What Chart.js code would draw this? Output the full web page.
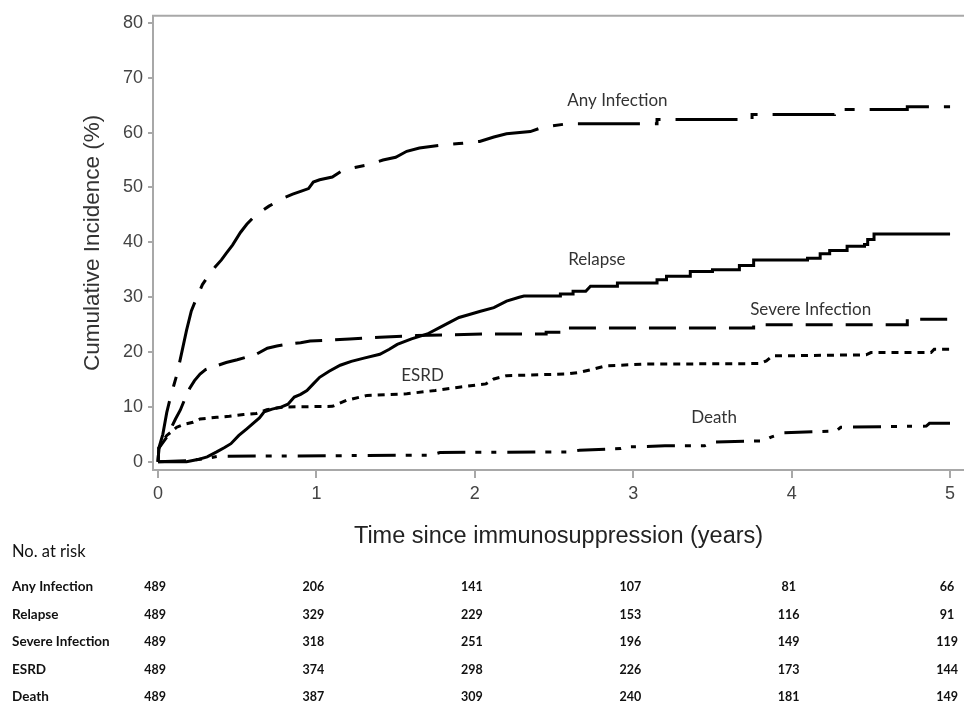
<!DOCTYPE html>
<html>
<head>
<meta charset="utf-8">
<script src="https://cdn.jsdelivr.net/npm/chart.js@4.4.1/dist/chart.umd.min.js"></script>
<style>
html,body{margin:0;padding:0;background:#fff;}
canvas{display:block;}
</style>
</head>
<body>
<canvas id="c" width="964" height="704"></canvas>
<script>
// ---------- data (vertical steps given as repeated times) ----------
const xTickValues = [0, 1, 2, 3, 4, 5];
const yTickValues = [0, 10, 20, 30, 40, 50, 60, 70, 80];

const anyInfectionTime = [0, 0.005, 0.03, 0.055, 0.08, 0.1, 0.12, 0.15, 0.18, 0.21, 0.245, 0.28, 0.32, 0.36, 0.4, 0.43, 0.47, 0.52, 0.56, 0.6, 0.65, 0.7, 0.75, 0.8, 0.85, 0.9, 0.95, 0.98, 1.02, 1.1, 1.17, 1.25, 1.32, 1.42, 1.5, 1.57, 1.65, 1.78, 1.9, 2.03, 2.12, 2.2, 2.35, 2.43, 2.58, 3.15, 3.15, 3.75, 3.75, 4.27, 4.27, 4.73, 4.73, 5.0];
const anyInfectionPct  = [0, 2.5, 5, 9, 12, 14, 16, 20, 24, 27.5, 30, 32.3, 34, 35.5, 36.8, 38, 39.5, 41.8, 43.3, 44.5, 45.6, 46.6, 47.4, 48.2, 48.8, 49.3, 49.8, 51, 51.4, 51.9, 53.2, 53.7, 54.1, 55, 55.5, 56.6, 57.2, 57.7, 58, 58.4, 59.2, 59.8, 60.2, 61, 61.6, 61.6, 62.4, 62.4, 63.3, 63.3, 64.2, 64.2, 64.7, 64.7];

const relapseTime = [0, 0.18, 0.25, 0.31, 0.37, 0.42, 0.46, 0.51, 0.56, 0.6, 0.64, 0.67, 0.72, 0.78, 0.82, 0.86, 0.9, 0.94, 0.98, 1.02, 1.08, 1.15, 1.22, 1.3, 1.4, 1.46, 1.51, 1.6, 1.7, 1.78, 1.84, 1.9, 1.96, 2.03, 2.12, 2.2, 2.28, 2.31, 2.54, 2.54, 2.62, 2.62, 2.7, 2.73, 2.9, 2.9, 3.15, 3.15, 3.21, 3.21, 3.36, 3.36, 3.5, 3.5, 3.67, 3.67, 3.76, 3.76, 4.1, 4.1, 4.18, 4.18, 4.24, 4.24, 4.35, 4.35, 4.46, 4.46, 4.48, 4.48, 4.52, 4.52, 5.0];
const relapsePct  = [0, 0, 0.4, 0.9, 1.8, 2.6, 3.3, 4.8, 6, 7, 8, 9.1, 9.6, 10, 10.5, 11.8, 12.3, 13, 14.2, 15.4, 16.5, 17.6, 18.3, 18.9, 19.6, 20.5, 21.4, 22.4, 23.3, 24.5, 25.4, 26.3, 26.8, 27.4, 28.1, 29.3, 30, 30.2, 30.2, 30.6, 30.6, 31.1, 31.1, 32, 32, 32.6, 32.6, 33.2, 33.2, 33.8, 33.8, 34.7, 34.7, 35, 35, 35.8, 35.8, 36.8, 36.8, 37.1, 37.1, 37.9, 37.9, 38.5, 38.5, 39.3, 39.3, 39.6, 39.6, 40.5, 40.5, 41.5, 41.5];

const severeInfectionTime = [0, 0.005, 0.03, 0.055, 0.08, 0.11, 0.14, 0.17, 0.2, 0.23, 0.265, 0.3, 0.35, 0.43, 0.5, 0.56, 0.62, 0.69, 0.75, 0.81, 0.9, 0.96, 1.1, 1.21, 1.4, 1.63, 2.07, 2.45, 2.45, 2.56, 2.56, 3.76, 3.76, 4.73, 4.73, 5.0];
const severeInfectionPct  = [0, 2.5, 3.5, 4.5, 6, 7.8, 9.4, 11.5, 13.4, 14.8, 16, 16.8, 17.3, 18.1, 18.6, 19.1, 19.6, 20.7, 21.1, 21.4, 21.7, 22, 22.2, 22.4, 22.7, 23, 23.3, 23.3, 23.6, 23.6, 24.4, 24.4, 25, 25, 26, 26];

const esrdTime = [0, 0.005, 0.03, 0.055, 0.09, 0.118, 0.16, 0.22, 0.265, 0.37, 0.45, 0.54, 0.62, 0.686, 0.75, 0.81, 1.1, 1.19, 1.32, 1.57, 1.75, 1.9, 2.07, 2.12, 2.2, 2.58, 2.66, 2.75, 2.83, 3.08, 3.8, 3.84, 3.88, 4.47, 4.5, 4.88, 4.9, 5.0];
const esrdPct  = [0, 2.5, 3.8, 4.8, 5.6, 6.3, 6.8, 7.2, 7.8, 8.1, 8.3, 8.6, 8.8, 9.5, 9.8, 10, 10.1, 11.2, 12.1, 12.4, 13, 13.6, 14.2, 15.1, 15.7, 16, 16.3, 16.9, 17.5, 17.8, 17.9, 18.4, 19.3, 19.5, 19.9, 19.9, 20.5, 20.5];

const deathTime = [0, 0.2, 0.3, 0.38, 1.72, 1.78, 2.6, 2.66, 2.92, 2.96, 3.2, 3.45, 3.5, 3.82, 3.87, 3.95, 4.28, 4.31, 4.85, 4.87, 5.0];
const deathPct  = [0, 0.2, 0.6, 1.0, 1.2, 1.7, 1.8, 2.1, 2.4, 2.7, 2.9, 2.9, 3.6, 3.8, 4.5, 5.3, 5.6, 6.3, 6.5, 7, 7];

const seriesNames = ['Any Infection', 'Relapse', 'Severe Infection', 'ESRD', 'Death'];

const riskTimes = [0, 1, 2, 3, 4, 5];
const riskAnyInfection    = [489, 206, 141, 107, 81, 66];
const riskRelapse         = [489, 329, 229, 153, 116, 91];
const riskSevereInfection = [489, 318, 251, 196, 149, 119];
const riskESRD            = [489, 374, 298, 226, 173, 144];
const riskDeath           = [489, 387, 309, 240, 181, 149];

// ---------- build ----------
function pts(t, v) { return t.map((x, i) => ({ x: x, y: v[i] })); }

const seriesData = [
  pts(anyInfectionTime, anyInfectionPct),
  pts(relapseTime, relapsePct),
  pts(severeInfectionTime, severeInfectionPct),
  pts(esrdTime, esrdPct),
  pts(deathTime, deathPct)
];
const dashes = [[62, 15, 10, 15], [], [27, 13], [7, 6], [28, 10, 6, 10, 5, 11]];

// curve label anchors (data units)
const labelAnchors = [
  { t: 2.90, v: 65.9 },
  { t: 2.77, v: 36.9 },
  { t: 4.12, v: 27.8 },
  { t: 1.67, v: 15.7 },
  { t: 3.51, v: 8.1 }
];
const riskRows = [riskAnyInfection, riskRelapse, riskSevereInfection, riskESRD, riskDeath];

const AXIS = '#a8a8a8';
const LABEL = '#444';

const overlay = {
  id: 'overlay',
  afterDraw(chart) {
    const ctx = chart.ctx, a = chart.chartArea;
    const xs = chart.scales.x, ys = chart.scales.y;
    ctx.save();
    // top frame line
    ctx.strokeStyle = AXIS; ctx.lineWidth = 2;
    ctx.beginPath(); ctx.moveTo(a.left - 1, a.top); ctx.lineTo(a.right, a.top); ctx.stroke();

    // curve labels
    ctx.fillStyle = '#333';
    ctx.font = '17px Lato';
    ctx.textAlign = 'center'; ctx.textBaseline = 'middle';
    seriesNames.forEach((n, i) => {
      ctx.fillText(n, xs.getPixelForValue(labelAnchors[i].t), ys.getPixelForValue(labelAnchors[i].v));
    });

    // risk table
    ctx.fillStyle = '#111';
    ctx.textAlign = 'left';
    ctx.font = '16.5px Lato';
    ctx.fillText('No. at risk', 12, 552);
    const rowY = [587, 614.5, 642, 669.5, 697];
    seriesNames.forEach((n, r) => {
      ctx.font = 'bold 13.5px Lato';
      ctx.textAlign = 'left';
      ctx.fillText(n, 12, rowY[r]);
      ctx.font = 'bold 12.5px Lato';
      ctx.textAlign = 'center';
      riskRows[r].forEach((val, k) => {
        ctx.fillText(String(val), xs.getPixelForValue(riskTimes[k]) - 3, rowY[r]);
      });
    });
    ctx.restore();
  }
};

new Chart(document.getElementById('c'), {
  type: 'line',
  data: {
    datasets: seriesData.map((d, i) => ({
      label: seriesNames[i],
      data: d,
      borderColor: '#000',
      borderWidth: 3,
      borderDash: dashes[i],
      borderCapStyle: 'butt',
      borderJoinStyle: 'miter',
      pointRadius: 0,
      tension: 0,
      fill: false
    }))
  },
  options: {
    responsive: false,
    devicePixelRatio: 1,
    animation: false,
    layout: { padding: { left: 0, right: 0, top: 13, bottom: 144 } },
    plugins: { legend: { display: false }, tooltip: { enabled: false } },
    scales: {
      x: {
        type: 'linear',
        min: -0.032,
        max: 5.088,
        afterBuildTicks: s => { s.ticks = xTickValues.map(v => ({ value: v })); },
        afterFit: s => { s.height = 90; },
        ticks: { color: LABEL, font: { family: 'Liberation Sans', size: 18 }, padding: 5, maxRotation: 0,
                 callback: v => String(v) },
        grid: { drawOnChartArea: false, drawTicks: true, tickLength: 8, color: AXIS, lineWidth: 2 },
        border: { color: AXIS, width: 2 },
        title: { display: true, text: 'Time since immunosuppression (years)', color: '#222',
                 font: { family: 'Liberation Sans', size: 23.5 }, padding: { top: 0, bottom: 9 } }
      },
      y: {
        min: -1.5,
        max: 81.3,
        afterBuildTicks: s => { s.ticks = yTickValues.map(v => ({ value: v })); },
        afterFit: s => { s.width = 153; },
        ticks: { color: LABEL, font: { family: 'Liberation Sans', size: 18 }, padding: 5,
                 callback: v => String(v) },
        grid: { drawOnChartArea: false, drawTicks: true, tickLength: 5, color: AXIS, lineWidth: 2 },
        border: { color: AXIS, width: 2 },
        title: { display: true, text: 'Cumulative Incidence (%)', color: '#333',
                 font: { family: 'Liberation Sans', size: 22.5 }, padding: { top: 79, bottom: 0 } }
      }
    }
  },
  plugins: [overlay]
});
</script>
</body>
</html>
